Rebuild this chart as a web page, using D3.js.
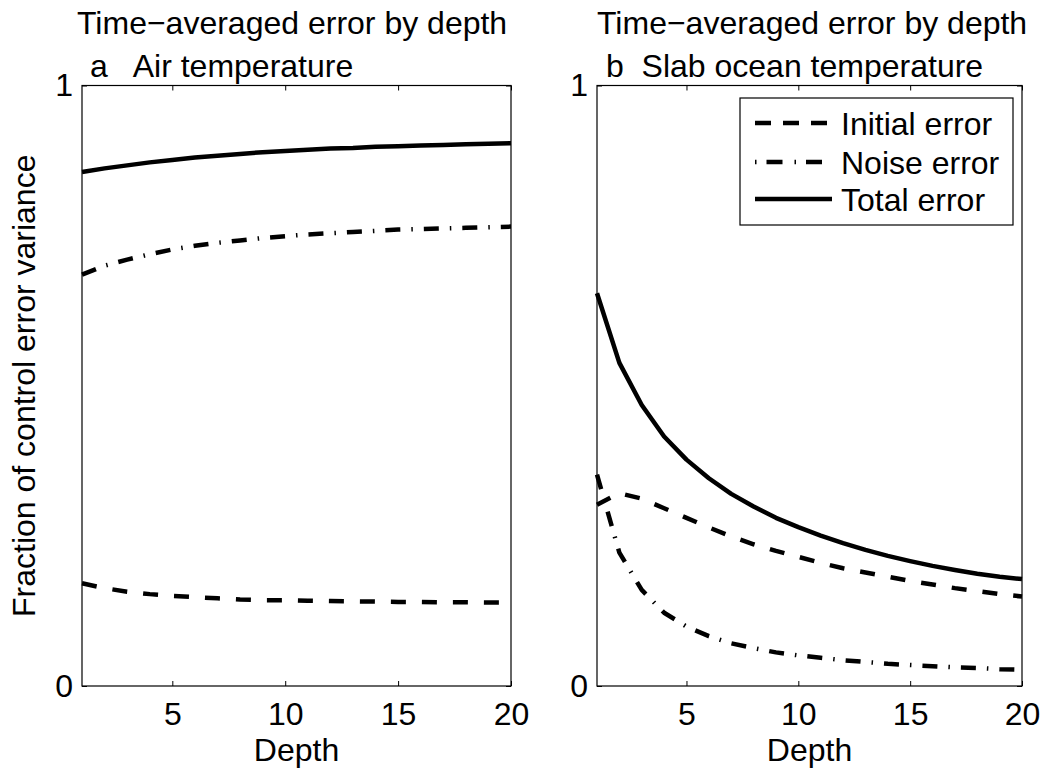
<!DOCTYPE html>
<html>
<head>
<meta charset="utf-8">
<script src="https://cdn.jsdelivr.net/npm/d3@7"></script>
<style>
  html, body { margin: 0; padding: 0; background: #fff; }
  svg { display: block; }
  text { font-family: "Liberation Sans", Arial, Helvetica, sans-serif; fill: #000; }
</style>
</head>
<body>
<svg id="chart" width="1045" height="771"></svg>
<script>
// ---------------- data ----------------
const depths = [1,2,3,4,5,6,7,8,9,10,11,12,13,14,15,16,17,18,19,20];

// Panel a: Air temperature
const airInitial = [0.171,0.163,0.157,0.153,0.150,0.148,0.146,0.144,0.143,0.143,0.142,0.1415,0.141,0.1405,0.140,0.140,0.1395,0.1395,0.139,0.139];
const airNoise   = [0.685,0.700,0.710,0.719,0.727,0.733,0.738,0.742,0.746,0.749,0.752,0.754,0.756,0.758,0.760,0.761,0.762,0.763,0.764,0.765];
const airTotal   = [0.856,0.862,0.867,0.872,0.876,0.880,0.883,0.886,0.889,0.891,0.893,0.895,0.896,0.898,0.899,0.900,0.901,0.902,0.903,0.904];

// Panel b: Slab ocean temperature
const oceanInitial = [0.302,0.321,0.312,0.296,0.280,0.264,0.249,0.236,0.225,0.215,0.205,0.196,0.189,0.182,0.175,0.169,0.163,0.158,0.153,0.149];
const oceanNoise   = [0.352,0.222,0.160,0.122,0.099,0.083,0.071,0.063,0.056,0.051,0.047,0.043,0.040,0.037,0.035,0.033,0.031,0.030,0.028,0.027];
const oceanTotal   = [0.654,0.538,0.468,0.4155,0.377,0.346,0.320,0.299,0.280,0.2645,0.2505,0.238,0.2267,0.2167,0.208,0.200,0.1933,0.187,0.182,0.178];

const xTicks = [5,10,15,20];
const yTicks = [0,1];
const titleLine1 = "Time\u2212averaged error by depth";
const panelTitles = ["a   Air temperature", "b  Slab ocean temperature"];
const legendLabels = ["Initial error", "Noise error", "Total error"];
const xLabel = "Depth";
const yLabel = "Fraction of control error variance";

// ---------------- drawing ----------------
const svg = d3.select("#chart");
const FS = 32;
const dashInitial = "15,16";
const dashNoise = "15,11,1.5,11";
const LW = 4.5;

const panels = [
  {x0: 82, x1: 511, title2: panelTitles[0], t1x: 77, t2x: 90,
   series: [airInitial, airNoise, airTotal]},
  {x0: 597, x1: 1022, title2: panelTitles[1], t1x: 597, t2x: 606,
   series: [oceanInitial, oceanNoise, oceanTotal]}
];
const yTop = 85.5, yBot = 686;
const styles = [dashInitial, dashNoise, null];

panels.forEach((p, pi) => {
  const x = d3.scaleLinear().domain([1, 20]).range([p.x0, p.x1]);
  const y = d3.scaleLinear().domain([0, 1]).range([yBot, yTop]);
  const g = svg.append("g");

  // series lines
  const line = d3.line().x((d, i) => x(depths[i])).y(d => y(d));
  p.series.forEach((s, si) => {
    const path = g.append("path").datum(s)
      .attr("d", line)
      .attr("fill", "none")
      .attr("stroke", "#000")
      .attr("stroke-width", LW)
      .attr("stroke-linejoin", "round")
      .attr("stroke-linecap", "butt");
    if (styles[si]) path.attr("stroke-dasharray", styles[si]);
  });

  // axes (ticks inside)
  const ax = (gen, tr) => {
    const a = g.append("g").attr("transform", tr).call(gen);
    a.select(".domain").remove();
    a.selectAll("line").attr("stroke", "#000").attr("stroke-width", 1);
    a.selectAll("text").attr("font-size", FS).attr("font-family", null).attr("fill", "#000");
    return a;
  };
  ax(d3.axisBottom(x).tickValues(xTicks).tickSize(-5).tickSizeOuter(0).tickPadding(16).tickFormat(d3.format("d")),
     `translate(0,${yBot})`);
  ax(d3.axisTop(x).tickValues(xTicks).tickSize(-5).tickSizeOuter(0).tickFormat(""),
     `translate(0,${yTop})`);
  ax(d3.axisLeft(y).tickValues(yTicks).tickSize(-5).tickSizeOuter(0).tickPadding(9).tickFormat(d3.format("d")),
     `translate(${p.x0},0)`);
  ax(d3.axisRight(y).tickValues(yTicks).tickSize(-5).tickSizeOuter(0).tickFormat(""),
     `translate(${p.x1},0)`);

  // box
  g.append("rect")
    .attr("x", p.x0).attr("y", yTop)
    .attr("width", p.x1 - p.x0).attr("height", yBot - yTop)
    .attr("fill", "none").attr("stroke", "#000").attr("stroke-width", 1.2);

  // titles
  g.append("text").attr("x", p.t1x).attr("y", 34).attr("font-size", FS).text(titleLine1);
  g.append("text").attr("x", p.t2x).attr("y", 77).attr("font-size", FS)
    .attr("xml:space", "preserve").style("white-space", "pre").text(p.title2);

  // x label
  g.append("text").attr("x", (p.x0 + p.x1) / 2).attr("y", 761)
    .attr("text-anchor", "middle").attr("font-size", FS).text(xLabel);

  // legend on panel b
  if (pi === 1) {
    const lg = g.append("g");
    lg.append("rect").attr("x", 740).attr("y", 98).attr("width", 273).attr("height", 127)
      .attr("fill", "#fff").attr("stroke", "#000").attr("stroke-width", 1.2);
    const rowY = [123, 162, 199];
    const legDash = ["16,12", "1.5,10,16,12", null];
    legendLabels.forEach((lab, i) => {
      const l = lg.append("line").attr("x1", 755).attr("x2", 832)
        .attr("y1", rowY[i]).attr("y2", rowY[i])
        .attr("stroke", "#000").attr("stroke-width", LW);
      if (legDash[i]) l.attr("stroke-dasharray", legDash[i]);
      lg.append("text").attr("x", 841).attr("y", rowY[i]).attr("dy", "0.36em")
        .attr("font-size", FS).text(lab);
    });
  }
});

// y label
svg.append("text")
  .attr("transform", `translate(35,${(yTop + yBot) / 2}) rotate(-90)`)
  .attr("text-anchor", "middle").attr("font-size", FS).text(yLabel);
</script>
</body>
</html>
